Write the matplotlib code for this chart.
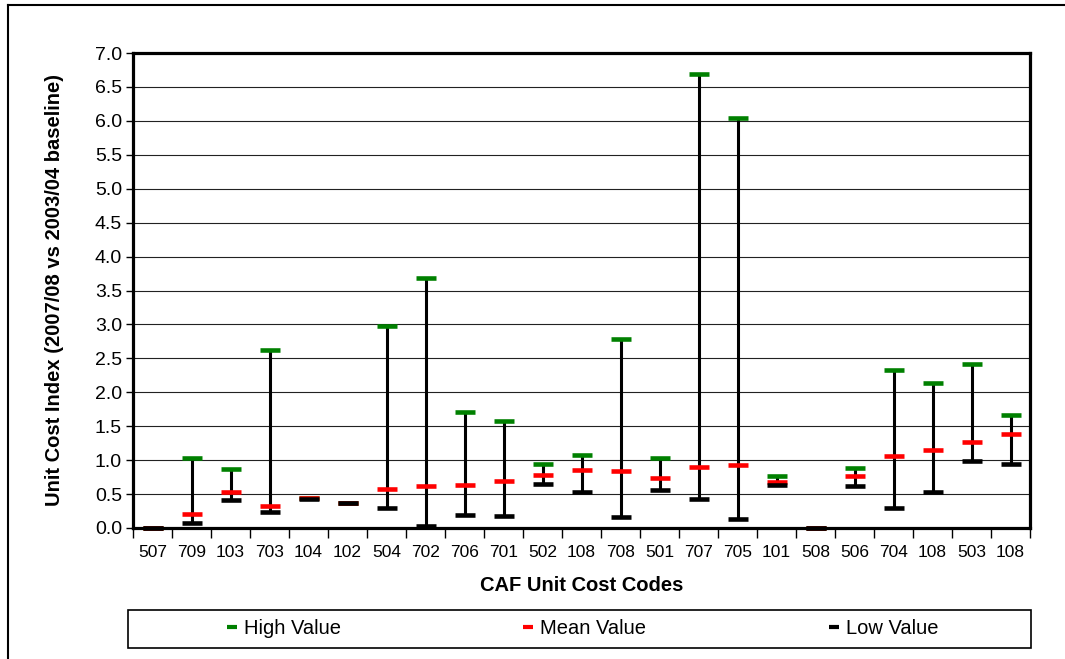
import matplotlib
matplotlib.use("Agg")
import matplotlib.pyplot as plt
from matplotlib.lines import Line2D
from matplotlib.patches import Rectangle

plt.rcParams["font.family"] = ["Liberation Sans", "DejaVu Sans"]

# unit cost index per CAF code
codes = ["507", "709", "103", "703", "104", "102", "504", "702", "706", "701",
         "502", "108", "708", "501", "707", "705", "101", "508", "506", "704",
         "108", "503", "108"]
high_vals = [0.00, 1.03, 0.87, 2.62, 0.44, 0.37, 2.97, 3.69, 1.71, 1.58,
             0.95, 1.07, 2.78, 1.03, 6.69, 6.04, 0.76, 0.00, 0.88, 2.33,
             2.13, 2.41, 1.67]
mean_vals = [0.00, 0.21, 0.53, 0.32, 0.44, 0.37, 0.58, 0.62, 0.64, 0.70,
             0.78, 0.85, 0.84, 0.73, 0.90, 0.93, 0.68, 0.00, 0.76, 1.06,
             1.15, 1.27, 1.39]
low_vals = [0.00, 0.07, 0.41, 0.24, 0.43, 0.37, 0.30, 0.03, 0.19, 0.17,
            0.65, 0.53, 0.16, 0.56, 0.43, 0.13, 0.63, 0.00, 0.62, 0.29,
            0.53, 0.99, 0.94]

W, H = 1065, 659
fig = plt.figure(figsize=(W / 100, H / 100), dpi=100)
ax = fig.add_axes([133 / W, (H - 528) / H, 897 / W, 475 / H])

x = list(range(len(codes)))
bar_style = dict(linestyle="none", marker="_", markersize=14.5,
                 markeredgewidth=3.3, clip_on=False)

ax.vlines(x, low_vals, high_vals, color="black", linewidth=2.2, zorder=3)
ax.plot(x, high_vals, color="#008000", zorder=4, **bar_style)
ax.plot(x, mean_vals, color="#ff0000", zorder=5, **bar_style)
ax.plot(x, low_vals, color="black", zorder=6, **bar_style)

ax.set_xlim(-0.5, len(codes) - 0.5)
ax.set_ylim(0, 7)
ax.set_yticks([i * 0.5 for i in range(15)])
ax.set_yticklabels([f"{i * 0.5:.1f}" for i in range(15)], fontsize=14)
ax.set_xticks(x)
ax.set_xticklabels(codes, fontsize=12.5)
ax.set_xticks([i - 0.5 for i in range(len(codes) + 1)], minor=True)
ax.tick_params(axis="x", which="major", length=0, pad=12)
ax.tick_params(axis="x", which="minor", length=7, width=1, direction="out")
ax.tick_params(axis="y", length=5, width=1, direction="out", pad=3)

ax.grid(axis="y", color="#222222", linewidth=0.8)
ax.set_axisbelow(True)
for side in ["left", "bottom", "top", "right"]:
    ax.spines[side].set_linewidth(2.3)
    ax.spines[side].set_zorder(7)

ax.set_xlabel("CAF Unit Cost Codes", fontsize=14.5, fontweight="bold", labelpad=12)
ax.set_ylabel("Unit Cost Index (2007/08 vs 2003/04 baseline)", fontsize=14.5,
              fontweight="bold", labelpad=22)

# legend box spanning the plot width, entries centred in thirds
fig.add_artist(Rectangle((128 / W, (H - 648) / H), 903 / W, 38 / H,
                         transform=fig.transFigure, fill=False,
                         edgecolor="black", linewidth=1.2))
handles = [
    Line2D([], [], linestyle="none", marker="_", markersize=7.5, markeredgewidth=3, color="#008000"),
    Line2D([], [], linestyle="none", marker="_", markersize=7.5, markeredgewidth=3, color="#ff0000"),
    Line2D([], [], linestyle="none", marker="_", markersize=7.5, markeredgewidth=3, color="black"),
]
fig.legend(handles, ["High Value", "Mean Value", "Low Value"], ncol=3,
           loc="center", bbox_to_anchor=(582 / W, (H - 629) / H),
           frameon=False, fontsize=14.5, handlelength=0.6, handletextpad=0.3,
           borderpad=0, borderaxespad=0, columnspacing=9.0)

# outer chart border (top and left edges)
fig.add_artist(Line2D([8 / W, 1.0], [1 - 5 / H, 1 - 5 / H], color="black", linewidth=1.5))
fig.add_artist(Line2D([8 / W, 8 / W], [0.0, 1 - 5 / H], color="black", linewidth=1.5))

plt.savefig("out.png", dpi=100)
plt.close()
